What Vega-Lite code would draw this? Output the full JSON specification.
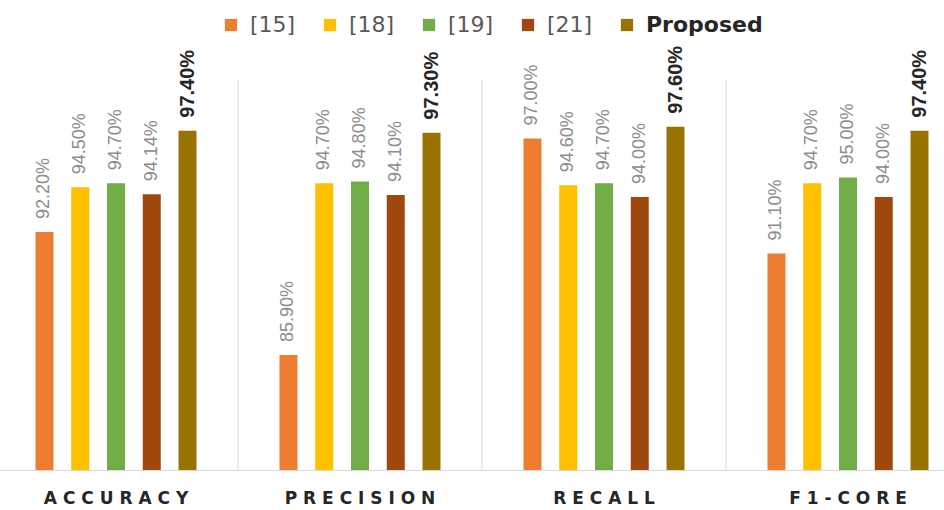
{
  "$schema": "https://vega.github.io/schema/vega-lite/v6.json",
  "width": 976,
  "height": 390,
  "autosize": {"type": "none"},
  "padding": {"left": -6, "top": 80, "right": 0, "bottom": 40},
  "background": "white",
  "config": {
    "view": {"stroke": null},
    "legend": {
      "orient": "none",
      "legendX": 226,
      "legendY": -66,
      "direction": "horizontal",
      "padding": 0,
      "symbolType": "square",
      "symbolSize": 150,
      "symbolStrokeWidth": 0,
      "symbolOpacity": 1,
      "labelFont": "DejaVu Sans",
      "labelFontSize": 22,
      "labelOffset": 8,
      "columnPadding": 23,
      "labelColor": {"expr": "datum.label === 'Proposed' ? '#262626' : '#595959'"},
      "labelFontWeight": {"expr": "datum.label === 'Proposed' ? 'bold' : 'normal'"}
    }
  },
  "data": {
    "values": [
      {"metric": "ACCURACY", "series": "[15]", "value": 92.2},
      {"metric": "ACCURACY", "series": "[18]", "value": 94.5},
      {"metric": "ACCURACY", "series": "[19]", "value": 94.7},
      {"metric": "ACCURACY", "series": "[21]", "value": 94.14},
      {"metric": "ACCURACY", "series": "Proposed", "value": 97.4},
      {"metric": "PRECISION", "series": "[15]", "value": 85.9},
      {"metric": "PRECISION", "series": "[18]", "value": 94.7},
      {"metric": "PRECISION", "series": "[19]", "value": 94.8},
      {"metric": "PRECISION", "series": "[21]", "value": 94.1},
      {"metric": "PRECISION", "series": "Proposed", "value": 97.3},
      {"metric": "RECALL", "series": "[15]", "value": 97.0},
      {"metric": "RECALL", "series": "[18]", "value": 94.6},
      {"metric": "RECALL", "series": "[19]", "value": 94.7},
      {"metric": "RECALL", "series": "[21]", "value": 94.0},
      {"metric": "RECALL", "series": "Proposed", "value": 97.6},
      {"metric": "F1-CORE", "series": "[15]", "value": 91.1},
      {"metric": "F1-CORE", "series": "[18]", "value": 94.7},
      {"metric": "F1-CORE", "series": "[19]", "value": 95.0},
      {"metric": "F1-CORE", "series": "[21]", "value": 94.0},
      {"metric": "F1-CORE", "series": "Proposed", "value": 97.4}
    ]
  },
  "transform": [
    {"calculate": "format(datum.value, '.2f') + '%'", "as": "label"}
  ],
  "layer": [
    {
      "transform": [{"filter": "datum.series === '[15]'"}],
      "mark": {"type": "rule", "color": "#d9d9d9", "strokeWidth": 1},
      "encoding": {
        "x": {
          "field": "metric",
          "type": "nominal",
          "sort": ["ACCURACY", "PRECISION", "RECALL", "F1-CORE"],
          "bandPosition": -0.0247
        }
      }
    },
    {
      "mark": {"type": "bar", "clip": true},
      "encoding": {
        "x": {
          "field": "metric",
          "type": "nominal",
          "sort": ["ACCURACY", "PRECISION", "RECALL", "F1-CORE"],
          "scale": {"paddingInner": 0.047, "paddingOuter": 0.0235},
          "axis": {
            "title": null,
            "ticks": false,
            "grid": false,
            "domain": true,
            "domainColor": "#d9d9d9",
            "bandPosition": 0.5,
            "labelAngle": 0,
            "labelAlign": "center",
            "labelBaseline": "top",
            "labelFont": "DejaVu Sans",
            "labelFontWeight": "bold",
            "labelFontSize": 17,
            "labelColor": "#262626",
            "labelPadding": 20,
            "labelExpr": "join(split(datum.label, ''), ' ')"
          }
        },
        "xOffset": {
          "field": "series",
          "type": "nominal",
          "scale": {"domain": ["[15]", "[18]", "[19]", "[21]", "Proposed"], "paddingInner": 0.4965, "paddingOuter": 1}
        },
        "y": {
          "field": "value",
          "type": "quantitative",
          "scale": {"domain": [80, 100], "zero": false, "nice": false},
          "axis": null
        },
        "color": {
          "field": "series",
          "type": "nominal",
          "scale": {
            "domain": ["[15]", "[18]", "[19]", "[21]", "Proposed"],
            "range": ["#ED7D31", "#FFC000", "#70AD47", "#9E480E", "#997300"]
          },
          "legend": {"title": null}
        }
      }
    },
    {
      "transform": [{"filter": "datum.series !== 'Proposed'"}],
      "mark": {
        "type": "text",
        "angle": 270,
        "align": "left",
        "baseline": "middle",
        "dx": 13,
        "font": "Liberation Sans",
        "fontSize": 18,
        "color": "#8c8c8c"
      },
      "encoding": {
        "x": {"field": "metric", "type": "nominal", "sort": ["ACCURACY", "PRECISION", "RECALL", "F1-CORE"]},
        "xOffset": {"field": "series", "type": "nominal", "scale": {"domain": ["[15]", "[18]", "[19]", "[21]", "Proposed"]}},
        "y": {"field": "value", "type": "quantitative"},
        "text": {"field": "label"}
      }
    },
    {
      "transform": [{"filter": "datum.series === 'Proposed'"}],
      "mark": {
        "type": "text",
        "angle": 270,
        "align": "left",
        "baseline": "middle",
        "dx": 13,
        "font": "Liberation Sans",
        "fontWeight": "bold",
        "fontSize": 20,
        "color": "#262626"
      },
      "encoding": {
        "x": {"field": "metric", "type": "nominal", "sort": ["ACCURACY", "PRECISION", "RECALL", "F1-CORE"]},
        "xOffset": {"field": "series", "type": "nominal", "scale": {"domain": ["[15]", "[18]", "[19]", "[21]", "Proposed"]}},
        "y": {"field": "value", "type": "quantitative"},
        "text": {"field": "label"}
      }
    }
  ]
}
